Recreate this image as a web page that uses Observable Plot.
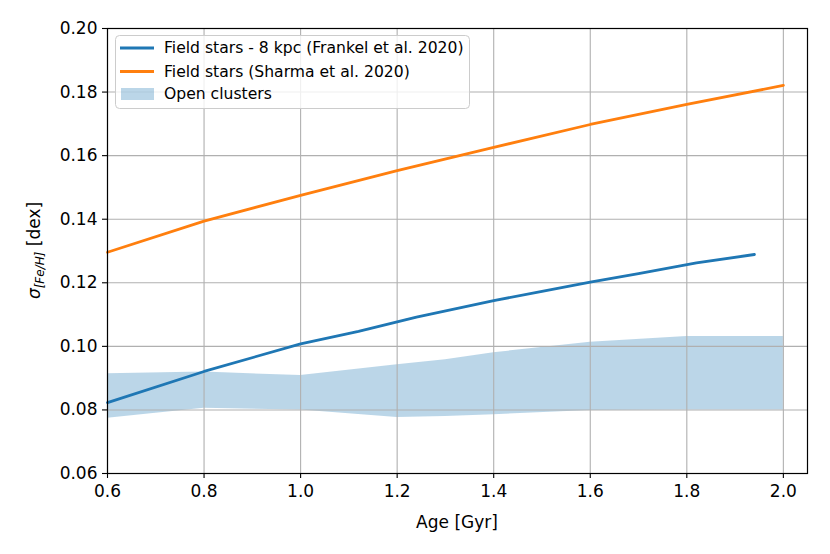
<!DOCTYPE html>
<html>
<head>
<meta charset="utf-8">
<script src="https://cdn.jsdelivr.net/npm/d3@7"></script>
<script src="https://cdn.jsdelivr.net/npm/@observablehq/plot@0.6"></script>
<style>
  html, body { margin: 0; padding: 0; background: #fff; }
  #chart { width: 830px; height: 554px; }
</style>
</head>
<body>
<div id="chart"></div>
<script>
// Field stars (Frankel et al. 2020) - 8 kpc
const frankelAge = [0.6, 0.8, 1.0, 1.12, 1.24, 1.4, 1.5, 1.6, 1.7, 1.82, 1.94];
const frankelSigma = [0.0823, 0.0921, 0.1008, 0.1047, 0.1092, 0.1144, 0.1173, 0.1202, 0.1229, 0.1263, 0.1289];

// Field stars (Sharma et al. 2020)
const sharmaAge = [0.6, 0.8, 1.0, 1.2, 1.4, 1.6, 1.8, 2.0];
const sharmaSigma = [0.1296, 0.1394, 0.1475, 0.1553, 0.1626, 0.1698, 0.1761, 0.1821];

// Open clusters band
const clusterAge = [0.6, 0.8, 1.0, 1.2, 1.3, 1.4, 1.6, 1.8, 2.0];
const clusterLow = [0.0774, 0.0805, 0.0800, 0.0776, 0.0779, 0.0785, 0.0798, 0.0800, 0.0800];
const clusterHigh = [0.0914, 0.0919, 0.0908, 0.0942, 0.0958, 0.0980, 0.1013, 0.1031, 0.1031];

const xTicks = [0.6, 0.8, 1.0, 1.2, 1.4, 1.6, 1.8, 2.0];
const yTicks = [0.06, 0.08, 0.10, 0.12, 0.14, 0.16, 0.18, 0.20];

const legendLabels = ["Field stars - 8 kpc (Frankel et al. 2020)", "Field stars (Sharma et al. 2020)", "Open clusters"];

const blue = "#1f77b4", orange = "#ff7f0e";

const frankel = frankelAge.map((a, i) => ({age: a, s: frankelSigma[i]}));
const sharma = sharmaAge.map((a, i) => ({age: a, s: sharmaSigma[i]}));
const clusters = clusterAge.map((a, i) => ({age: a, lo: clusterLow[i], hi: clusterHigh[i]}));

const W = 830, H = 554;
const mL = 107, mR = 23, mT = 28, mB = 81;

const plot = Plot.plot({
  width: W,
  height: H,
  marginLeft: mL,
  marginRight: mR,
  marginTop: mT,
  marginBottom: mB,
  style: {fontFamily: "DejaVu Sans", fontSize: "17px", background: "#fff", color: "#000"},
  x: {domain: [0.6, 2.05], ticks: xTicks, tickFormat: d3.format(".1f"), label: null},
  y: {domain: [0.06, 0.20], ticks: yTicks, tickFormat: d3.format(".2f"), label: null},
  marks: [
    Plot.areaY(clusters, {x: "age", y1: "lo", y2: "hi", fill: blue, fillOpacity: 0.3}),
    Plot.gridX(xTicks, {stroke: "#b0b0b0", strokeOpacity: 1, strokeWidth: 1.1}),
    Plot.gridY(yTicks, {stroke: "#b0b0b0", strokeOpacity: 1, strokeWidth: 1.1}),
    Plot.line(frankel, {x: "age", y: "s", stroke: blue, strokeWidth: 2.8}),
    Plot.line(sharma, {x: "age", y: "s", stroke: orange, strokeWidth: 2.8}),
    Plot.axisX(xTicks, {tickSize: 5, tickPadding: 6, stroke: "#000", strokeWidth: 1.1, fontSize: 17, label: null, tickFormat: d3.format(".1f")}),
    Plot.axisY(yTicks, {tickSize: 5, tickPadding: 5, stroke: "#000", strokeWidth: 1.1, fontSize: 17, label: null, tickFormat: d3.format(".2f")}),
    Plot.frame({stroke: "#000", strokeWidth: 1.2})
  ]
});

document.getElementById("chart").appendChild(plot);

const svg = d3.select(plot);

// X label
svg.append("text")
  .attr("x", mL + (W - mL - mR) / 2)
  .attr("y", 528)
  .attr("text-anchor", "middle")
  .attr("font-family", "DejaVu Sans")
  .attr("font-size", 17)
  .attr("fill", "#000")
  .text("Age [Gyr]");

// Y label with subscript
const yl = svg.append("text")
  .attr("transform", `translate(40, ${mT + (H - mT - mB) / 2}) rotate(-90)`)
  .attr("text-anchor", "middle")
  .attr("font-family", "DejaVu Sans")
  .attr("font-size", 17)
  .attr("fill", "#000");
yl.append("tspan").attr("font-style", "italic").text("σ");
yl.append("tspan").attr("font-style", "italic").attr("font-size", 12).attr("dy", 4).text("[Fe/H]");
yl.append("tspan").attr("dy", -4).text(" [dex]");

// Legend
const lg = svg.append("g").attr("font-family", "DejaVu Sans").attr("font-size", 15.6).attr("text-anchor", "start");
lg.append("rect")
  .attr("x", 115.5).attr("y", 35.5).attr("width", 354).attr("height", 73)
  .attr("rx", 4).attr("fill", "#fff").attr("fill-opacity", 0.8)
  .attr("stroke", "#cccccc").attr("stroke-width", 1);
const rowsY = [48, 71.5, 94];
[blue, orange].forEach((c, i) => {
  lg.append("line").attr("x1", 120).attr("x2", 154).attr("y1", rowsY[i]).attr("y2", rowsY[i])
    .attr("stroke", c).attr("stroke-width", 2.8);
});
lg.append("rect").attr("x", 121).attr("y", rowsY[2] - 6).attr("width", 33).attr("height", 12)
  .attr("fill", blue).attr("fill-opacity", 0.3);
legendLabels.forEach((t, i) => {
  lg.append("text").attr("x", 164).attr("y", rowsY[i]).attr("dy", "0.35em").attr("text-anchor", "start").attr("fill", "#000").text(t);
});
</script>
</body>
</html>
